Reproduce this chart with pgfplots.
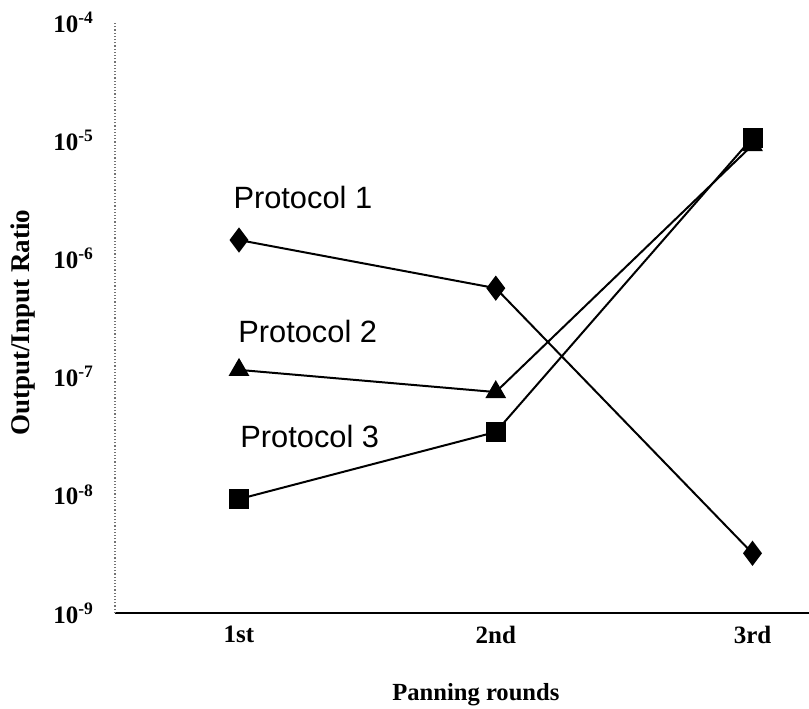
\documentclass[border=0pt]{standalone}
\usepackage{fontspec}
\setmainfont{Liberation Serif}
\newfontfamily\sansf{Liberation Sans}
\usepackage{pgfplots}
\pgfplotsset{compat=1.18}
\begin{document}
\begin{tikzpicture}
\begin{axis}[
  at={(0,0)}, anchor=south west,
  scale only axis, width=347pt, height=295.5pt,
  xmin=0.517, xmax=3.22,
  ymode=log, ymin=1e-9, ymax=1e-4,
  axis x line=bottom, axis y line=left,
  axis line style={-},
  x axis line style={black, line width=0.9pt},
  y axis line style={black!55, densely dotted, line width=0.6pt},
  xtick={1,2,3}, xticklabels={1st,2nd,3rd},
  ytick={1e-9,1e-8,1e-7,1e-6,1e-5,1e-4},
  yticklabels={10\textsuperscript{-9},10\textsuperscript{-8},10\textsuperscript{-7},10\textsuperscript{-6},10\textsuperscript{-5},10\textsuperscript{-4}},
  minor tick num=0,
  major tick length=0pt, minor tick length=0pt,
  xticklabel style={font=\fontsize{12.5}{14}\selectfont\bfseries, yshift=-3pt},
  yticklabel style={font=\fontsize{12.5}{14}\selectfont\bfseries, xshift=-7pt},
  clip=false,
]
\addplot[black, line width=1pt, mark=diamond*, mark size=5.5pt, mark options={solid}]
  coordinates {(1,1.43e-6) (2,5.6e-7) (3,3.2e-9)};
\addplot[black, line width=1pt, mark=triangle*, mark size=5pt, mark options={solid}]
  coordinates {(1,1.14e-7) (2,7.4e-8) (3,9.1e-6)};
\addplot[black, line width=1pt, mark=square*, mark size=4.5pt, mark options={solid}]
  coordinates {(1,9.2e-9) (2,3.4e-8) (3,1.05e-5)};
\node[anchor=west, inner sep=0pt, font=\sansf\fontsize{15.4}{17}\selectfont] at (axis cs:0.977,3.3e-6) {Protocol 1};
\node[anchor=west, inner sep=0pt, font=\sansf\fontsize{15.4}{17}\selectfont] at (axis cs:0.996,2.4e-7) {Protocol 2};
\node[anchor=west, inner sep=0pt, font=\sansf\fontsize{15.4}{17}\selectfont] at (axis cs:1.004,3.1e-8) {Protocol 3};
\node[rotate=90, font=\fontsize{13.5}{15}\selectfont\bfseries] at (rel axis cs:-0.1326,0.491) {Output/Input Ratio};
\node[font=\fontsize{12.3}{14}\selectfont\bfseries] at (rel axis cs:0.52,-0.139) {Panning rounds};
\end{axis}
\pgfresetboundingbox
\path[use as bounding box] (-57.5pt,-47.5pt) rectangle (347pt,306.5pt);
\end{tikzpicture}
\end{document}
